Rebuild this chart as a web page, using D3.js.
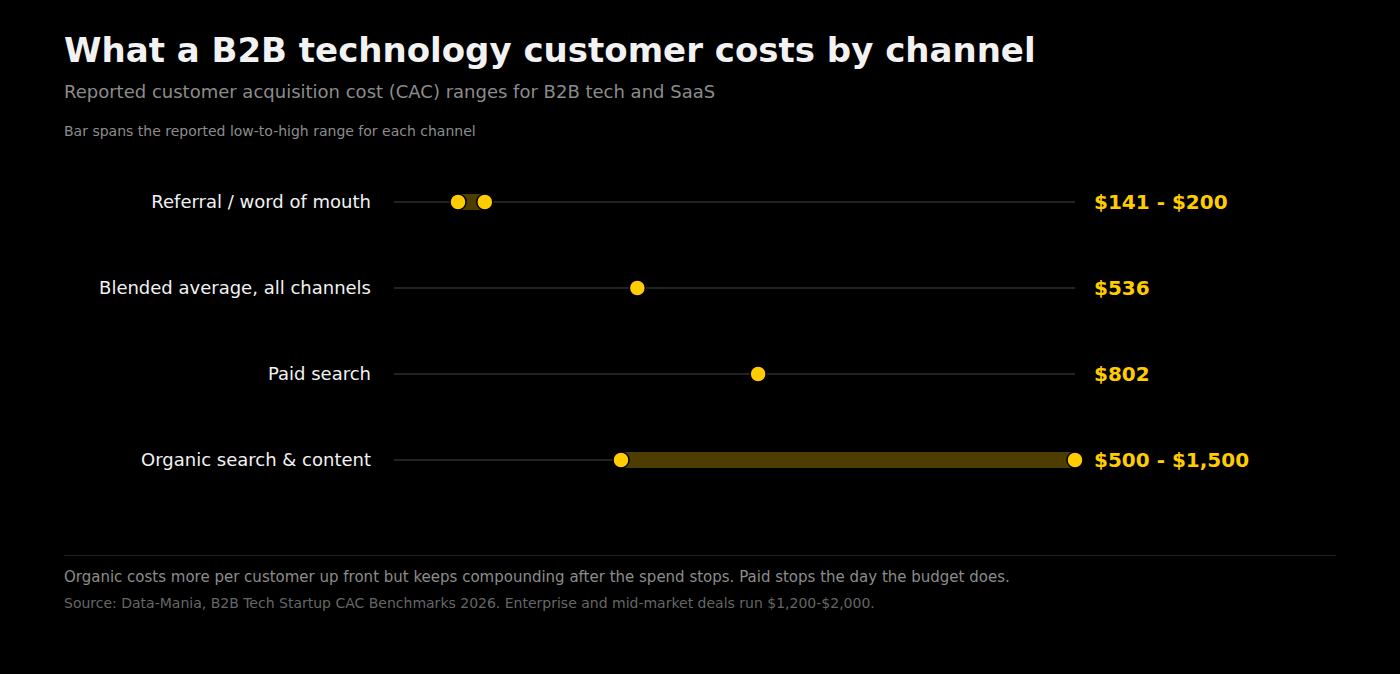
<!DOCTYPE html>
<html><head><meta charset="utf-8">
<script src="https://cdn.jsdelivr.net/npm/d3@7"></script>
<style>body{margin:0;background:#000}svg{display:block;font-family:"DejaVu Sans",sans-serif}</style>
</head><body><svg id="c"></svg>
<script>
const channels = ['Referral / word of mouth', 'Blended average, all channels', 'Paid search', 'Organic search & content'];
const lows = [141, 536, 802, 500];
const highs = [200, 536, 802, 1500];
const labels = ['$141 - $200', '$536', '$802', '$500 - $1,500'];

const W = 1400, H = 674;
const svg = d3.select('#c').attr('width', W).attr('height', H);
svg.append('rect').attr('width', W).attr('height', H).attr('fill', '#000');

svg.append('text').attr('x', 64).attr('y', 62).attr('fill', '#f2f2f2')
  .attr('font-size', 34).attr('font-weight', 'bold').text('What a B2B technology customer costs by channel');
svg.append('text').attr('x', 64).attr('y', 98).attr('fill', '#8c8c8c')
  .attr('font-size', 18).text('Reported customer acquisition cost (CAC) ranges for B2B tech and SaaS');
svg.append('text').attr('x', 64).attr('y', 136).attr('fill', '#8c8c8c')
  .attr('font-size', 14).text('Bar spans the reported low-to-high range for each channel');

const x = d3.scaleLinear().domain([0, 1500]).range([394, 1075]);
const y = d3.scalePoint().domain(channels).range([202, 460]);
const gold = '#ffcc00';

const rows = svg.selectAll('g.row').data(channels).join('g').attr('class', 'row')
  .attr('transform', d => `translate(0,${y(d)})`);

rows.append('line').attr('x1', x(0)).attr('x2', x(1500)).attr('stroke', '#222').attr('stroke-width', 2);
rows.append('line').attr('x1', (d, i) => x(lows[i])).attr('x2', (d, i) => x(highs[i]))
  .attr('stroke', '#4d3d00').attr('stroke-width', 16);
rows.append('text').attr('x', 371).attr('dy', '0.35em').attr('text-anchor', 'end')
  .attr('fill', '#f2f2f2').attr('font-size', 18).text(d => d);
rows.each(function(d, i) {
  const vals = lows[i] === highs[i] ? [lows[i]] : [lows[i], highs[i]];
  d3.select(this).selectAll('circle').data(vals).join('circle')
    .attr('cx', v => x(v)).attr('r', 8).attr('fill', gold).attr('stroke', '#000').attr('stroke-width', 1.5);
});
rows.append('text').attr('x', 1094).attr('dy', '0.35em').attr('fill', gold)
  .attr('font-size', 20).attr('font-weight', 'bold').text((d, i) => labels[i]);

svg.append('line').attr('x1', 64).attr('x2', 1336).attr('y1', 555.5).attr('y2', 555.5).attr('stroke', '#222');
svg.append('text').attr('x', 64).attr('y', 582).attr('fill', '#8c8c8c').attr('font-size', 15)
  .text('Organic costs more per customer up front but keeps compounding after the spend stops. Paid stops the day the budget does.');
svg.append('text').attr('x', 64).attr('y', 608).attr('fill', '#666').attr('font-size', 14)
  .text('Source: Data-Mania, B2B Tech Startup CAC Benchmarks 2026. Enterprise and mid-market deals run $1,200-$2,000.');
</script></body></html>
